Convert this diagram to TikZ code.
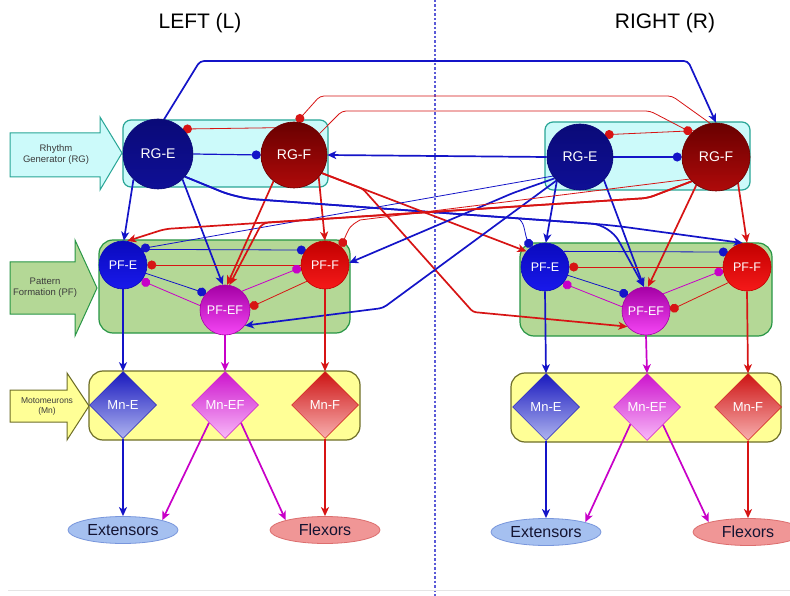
\documentclass[tikz,border=0pt]{standalone}
\usepackage{fontspec}
\setmainfont{Liberation Sans}
\usetikzlibrary{arrows.meta,shapes.geometric}
\pgfdeclarelayer{bg}
\pgfdeclarelayer{lines}
\pgfsetlayers{bg,lines,main}
\definecolor{cblue}{RGB}{20,20,200}
\definecolor{cred}{RGB}{215,20,20}
\definecolor{cmag}{RGB}{200,0,200}
\definecolor{rgfill}{RGB}{204,250,250}
\definecolor{rgline}{RGB}{40,165,150}
\definecolor{pffill}{RGB}{180,216,150}
\definecolor{pfline}{RGB}{40,150,70}
\definecolor{mnfill}{RGB}{255,255,150}
\definecolor{mnline}{RGB}{110,110,40}
\definecolor{cdash}{RGB}{90,90,215}
\definecolor{labtext}{RGB}{60,60,60}
\definecolor{rgeT}{RGB}{10,10,120}
\definecolor{rgeB}{RGB}{15,15,150}
\definecolor{rgfT}{RGB}{105,0,0}
\definecolor{rgfB}{RGB}{175,10,10}
\definecolor{pfeT}{RGB}{10,10,190}
\definecolor{pfeB}{RGB}{25,25,235}
\definecolor{pffT}{RGB}{195,0,0}
\definecolor{pffB}{RGB}{245,25,25}
\definecolor{pfefT}{RGB}{165,0,165}
\definecolor{pfefB}{RGB}{245,70,245}
\definecolor{mneT}{RGB}{25,25,190}
\definecolor{mneB}{RGB}{175,180,240}
\definecolor{mnefT}{RGB}{205,20,205}
\definecolor{mnefB}{RGB}{248,185,248}
\definecolor{mnfT}{RGB}{205,20,20}
\definecolor{mnfB}{RGB}{248,175,175}
\definecolor{extfill}{RGB}{165,192,240}
\definecolor{extline}{RGB}{120,150,220}
\definecolor{flxfill}{RGB}{240,150,150}
\definecolor{flxline}{RGB}{220,110,110}
\begin{document}
\begin{tikzpicture}[x=1pt,y=-1pt,
  neu/.style={circle, inner sep=0pt, text=white, line width=0.6pt},
  rgtxt/.style={font=\fontsize{14}{14}\selectfont},
  pftxt/.style={font=\fontsize{12.5}{12.5}\selectfont},
  mnd/.style={diamond, aspect=1, inner sep=0pt, minimum width=67pt, minimum height=67pt, text=white, line width=0.5pt, font=\fontsize{13}{13}\selectfont},
  musc/.style={ellipse, inner sep=0pt, minimum width=110pt, minimum height=27pt, line width=0.8pt, text={rgb,255:red,20;green,20;blue,50}, font=\fontsize{16}{16}\selectfont},
  lab/.style={align=center, text=labtext, font=\fontsize{9.5}{11}\selectfont},
  bl/.style={draw=cblue, line width=1.7pt},
  blm/.style={draw=cblue, line width=1.2pt},
  blthin/.style={draw=cblue, line width=0.8pt},
  rd/.style={draw=cred, line width=1.7pt},
  rdthin/.style={draw=cred, line width=0.8pt},
  mg/.style={draw=cmag, line width=1.7pt},
  mgthin/.style={draw=cmag, line width=0.8pt},
  arr/.style={-{Stealth[length=9pt,width=8pt,inset=2.5pt]}},
  inh/.style={-{Circle[length=9pt]}},
  ttl/.style={font=\fontsize{21}{21}\selectfont}
]
\useasboundingbox (0,0) rectangle (790,596);

% ---------- background: boxes, labels, divider ----------
\begin{pgfonlayer}{bg}
\fill[white] (0,0) rectangle (790,596);
\draw[cdash, line width=1.1pt, dash pattern=on 2.5pt off 2pt] (435,0) -- (435,596);
\draw[gray!20, line width=0.8pt] (8,590) -- (790,590);
% label arrows
\draw[rgline, fill=rgfill, line width=1pt] (10,133) -- (100,133) -- (100,117) -- (122,153) -- (100,190) -- (100,177) -- (10,177) -- cycle;
\draw[pfline, fill=pffill, line width=1pt] (10,262) -- (75,262) -- (75,240) -- (97,288) -- (75,336) -- (75,314) -- (10,314) -- cycle;
\draw[mnline, fill=mnfill, line width=1pt] (10,390) -- (67,390) -- (67,373) -- (89,406) -- (67,440) -- (67,422) -- (10,422) -- cycle;
% level boxes
\draw[rgline, fill=rgfill, line width=1.2pt, rounded corners=8pt] (123,120) rectangle (328,187);
\draw[pfline, fill=pffill, line width=1.2pt, rounded corners=14pt] (99,240) rectangle (350,333);
\draw[mnline, fill=mnfill, line width=1.2pt, rounded corners=14pt] (89,371) rectangle (360,440);
\draw[rgline, fill=rgfill, line width=1.2pt, rounded corners=8pt] (545,122) rectangle (750,190);
\draw[pfline, fill=pffill, line width=1.2pt, rounded corners=14pt] (520,243) rectangle (772,336);
\draw[mnline, fill=mnfill, line width=1.2pt, rounded corners=14pt] (511,373) rectangle (781,442);
\end{pgfonlayer}

\node[lab] (labRG) at (56,155) {Rhythm\\Generator (RG)};
\node[lab] (labPF) at (45,288) {Pattern\\Formation (PF)};
\node[lab, font=\fontsize{8.5}{10}\selectfont] (labMN) at (47,406) {Motomeurons\\(Mn)};

\node[ttl] (tL) at (200,23) {LEFT (L)};
\node[ttl] (tR) at (665,23) {RIGHT (R)};

% ---------- nodes: LEFT ----------
\node[neu, rgtxt, minimum size=70pt, top color=rgeT, bottom color=rgeB, draw=rgeT] (RGEL) at (158,154) {RG-E};
\node[neu, rgtxt, minimum size=66pt, top color=rgfT, bottom color=rgfB, draw=rgfT] (RGFL) at (294,155) {RG-F};
\node[neu, pftxt, minimum size=48pt, top color=pfeT, bottom color=pfeB, draw=pfeT] (PFEL) at (123,265) {PF-E};
\node[neu, pftxt, minimum size=48pt, top color=pffT, bottom color=pffB, draw=pffT] (PFFL) at (325,265) {PF-F};
\node[neu, pftxt, minimum size=50pt, top color=pfefT, bottom color=pfefB, draw=pfefT] (PFEFL) at (225,310) {PF-EF};
\node[mnd, top color=mneT, bottom color=mneB, draw=mneT] (MnEL) at (123,405) {Mn-E};
\node[mnd, top color=mnefT, bottom color=mnefB, draw=mnefT] (MnEFL) at (225,405) {Mn-EF};
\node[mnd, top color=mnfT, bottom color=mnfB, draw=mnfT] (MnFL) at (325,405) {Mn-F};
\node[musc, fill=extfill, draw=extline] (ExtL) at (123,530) {Extensors};
\node[musc, fill=flxfill, draw=flxline] (FlxL) at (325,530) {Flexors};

% ---------- nodes: RIGHT ----------
\node[neu, rgtxt, minimum size=66pt, top color=rgeT, bottom color=rgeB, draw=rgeT] (RGER) at (580,157) {RG-E};
\node[neu, rgtxt, minimum size=68pt, top color=rgfT, bottom color=rgfB, draw=rgfT] (RGFR) at (716,157) {RG-F};
\node[neu, pftxt, minimum size=48pt, top color=pfeT, bottom color=pfeB, draw=pfeT] (PFER) at (545,267) {PF-E};
\node[neu, pftxt, minimum size=48pt, top color=pffT, bottom color=pffB, draw=pffT] (PFFR) at (747,267) {PF-F};
\node[neu, pftxt, minimum size=48pt, top color=pfefT, bottom color=pfefB, draw=pfefT] (PFEFR) at (646,311) {PF-EF};
\node[mnd, top color=mneT, bottom color=mneB, draw=mneT] (MnER) at (546,407) {Mn-E};
\node[mnd, top color=mnefT, bottom color=mnefB, draw=mnefT] (MnEFR) at (647,407) {Mn-EF};
\node[mnd, top color=mnfT, bottom color=mnfB, draw=mnfT] (MnFR) at (748,407) {Mn-F};
\node[musc, fill=extfill, draw=extline] (ExtR) at (546,532) {Extensors};
\node[musc, fill=flxfill, draw=flxline] (FlxR) at (748,532) {Flexors};

\coordinate (brB) at (517,218);

% ---------- connectors ----------
\begin{pgfonlayer}{lines}
% RG level, left
\draw[blm, inh] (RGEL.east) -- (RGFL.west);
\draw[rdthin, inh] (RGFL.125) -- (RGEL.45);
% RG level, right
\draw[blm, inh] (RGER.east) -- (RGFR.west);
\draw[rdthin, inh] (RGFR.130) -- (RGER.42);
% long top connections
\draw[bl, arr, rounded corners=4pt] (RGEL.80) -- (200,61) -- (688,61) -- (RGFR.north);
\draw[rdthin, inh, rounded corners=4pt] (RGFR.100) -- (672,96) -- (320,96) -- (RGFL.85);
\draw[rdthin, inh, rounded corners=4pt] (RGFL.40) -- (342,111) -- (650,111) -- (RGFR.135);
\draw[bl, arr] (RGER.west) -- (RGFL.east);

% left RG -> left PF
\draw[bl, arr] (RGEL.-134) -- (PFEL.88);
\draw[bl, arr] (RGEL.-46) -- (PFEFL.95);
\draw[rd, arr] (RGFL.-42) -- (PFFL.north);
\draw[rd, arr] (RGFL.-128) -- (PFEFL.85);
% right RG -> right PF
\draw[bl, arr] (RGER.-134) -- (PFER.88);
\draw[bl, arr] (RGER.-44) -- (PFEFR.95);
\draw[rd, arr] (RGFR.-50) -- (PFFR.north);
\draw[rd, arr] (RGFR.-125) -- (PFEFR.85);

% left RG-E -> right PF
\draw[bl, arr, rounded corners=18pt] (RGEL.-40) -- (237,198) -- (610,225) -- (PFFR.100);
\draw[bl, arr, rounded corners=18pt] (RGEL.-40) -- (237,198) -- (610,225) -- (PFEFR.95);
\draw[blthin, inh] (brB) .. controls (525,221) and (524,232) .. (PFER.127);
% left RG-F -> right PF
\draw[rd, arr] (RGFL.-33) -- (PFER.140);
\draw[rd, arr, rounded corners=3pt] (RGFL.-33) -- (363,189) -- (473,312) -- (PFEFR.-140);

% right RG-E -> left PF
\draw[bl, arr, rounded corners=4pt] (RGER.-140) -- (513,193) -- (PFFL.5);
\draw[bl, arr, rounded corners=4pt] (RGER.-135) -- (383,308) -- (PFEFL.-38);
\draw[blthin, inh] (RGER.-145) -- (PFEL.42);
% right RG-F -> left PF
\draw[rd, arr, rounded corners=6pt] (RGFR.-135) -- (648,198) -- (165,229) -- (PFEL.80);
\draw[rd, arr, rounded corners=6pt] (RGFR.-135) -- (648,198) -- (262,223) -- (PFEFL.80);
\draw[rdthin, inh] (RGFR.-140) -- (360,220) .. controls (350,226) .. (PFFL.49);

% PF internal, left
\draw[blthin, inh] (PFEL.40) -- (PFFL.142);
\draw[rdthin, inh] (PFFL.west) -- (PFEL.east);
\draw[blthin, inh] (PFEL.-20) -- (PFEFL.139);
\draw[mgthin, inh] (PFEFL.170) -- (PFEL.-40);
\draw[mgthin, inh] (PFEFL.48) -- (PFFL.186);
\draw[rdthin, inh] (PFFL.-138) -- (PFEFL.6);
% PF internal, right
\draw[blthin, inh] (PFER.40) -- (PFFR.142);
\draw[rdthin, inh] (PFFR.west) -- (PFER.east);
\draw[blthin, inh] (PFER.-20) -- (PFEFR.138);
\draw[mgthin, inh] (PFEFR.170) -- (PFER.-42);
\draw[mgthin, inh] (PFEFR.45) -- (PFFR.188);
\draw[rdthin, inh] (PFFR.-140) -- (PFEFR.2);

% PF -> Mn
\draw[bl, arr] (PFEL.south) -- (MnEL.north);
\draw[mg, arr] (PFEFL.south) -- (MnEFL.north);
\draw[rd, arr] (PFFL.south) -- (MnFL.north);
\draw[bl, arr] (PFER.south) -- (MnER.north);
\draw[mg, arr] (PFEFR.south) -- (MnEFR.north);
\draw[rd, arr] (PFFR.south) -- (MnFR.north);

% Mn -> muscles
\draw[bl, arr] (MnEL.south) -- (ExtL.north);
\draw[mg, arr] (MnEFL.-132) -- (ExtL.14);
\draw[mg, arr] (MnEFL.-48) -- (FlxL.166);
\draw[rd, arr] (MnFL.south) -- (FlxL.north);
\draw[bl, arr] (MnER.south) -- (ExtR.north);
\draw[mg, arr] (MnEFR.-134) -- (ExtR.14);
\draw[mg, arr] (MnEFR.-48) -- (FlxR.166);
\draw[rd, arr] (MnFR.south) -- (FlxR.north);
\end{pgfonlayer}
\end{tikzpicture}
\end{document}
